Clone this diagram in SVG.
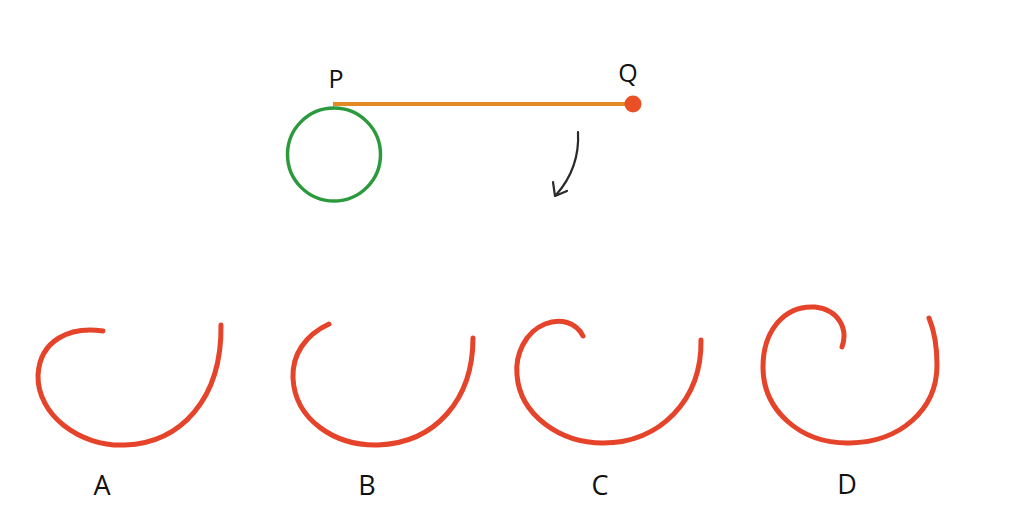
<svg xmlns="http://www.w3.org/2000/svg" width="1027" height="526" viewBox="0 0 1027 526">
<style>
.lbl{font-family:"Open Sans","Liberation Sans",sans-serif;fill:#111;text-anchor:middle}
.opt{fill:none;stroke:#e5432a;stroke-width:5;stroke-linecap:round}
</style>
<rect width="1027" height="526" fill="#fff"/>
<g id="circle"><circle cx="334" cy="154.5" r="46.5" fill="none" stroke="#2b9a3c" stroke-width="3.5"/></g>
<g id="rod"><line x1="333" y1="104" x2="633" y2="104" stroke="#e38b22" stroke-width="4"/></g>
<g id="Q"><circle cx="633" cy="104" r="8.5" fill="#ea5025"/><text class="lbl" x="628" y="82" font-size="25">Q</text></g>
<g id="P"><text class="lbl" x="336" y="88" font-size="25">P</text></g>
<g id="connectors">
<path d="M578,132 Q580,168 556,195" fill="none" stroke="#2a2a2a" stroke-width="2.2" stroke-linecap="round"/>
<path d="M553,182 L555,196 L567,191" fill="none" stroke="#2a2a2a" stroke-width="2.2" stroke-linecap="round" stroke-linejoin="round"/>
</g>
<g id="A"><path class="opt" d="M103,331 C70,326 40,340 38,375 C37,415 80,447 125,445 C180,443 222,400 221,325"/><text class="lbl" x="102" y="495" font-size="27">A</text></g>
<g id="B"><path class="opt" d="M329,324 C305,335 292,355 293,378 C295,420 335,446 378,445 C435,443 473,400 473,338"/><text class="lbl" x="367" y="495" font-size="27">B</text></g>
<g id="C"><path class="opt" d="M583,336 C576,322 560,318 545,324 C525,332 515,355 517,375 C520,415 560,443 603,443 C660,443 702,400 701,340"/><text class="lbl" x="600" y="495" font-size="27">C</text></g>
<g id="D"><path class="opt" d="M842,347 C848,330 840,310 815,307 C785,305 763,330 763,367 C763,410 800,444 850,443 C900,442 937,410 937,365 C937,345 934,330 929,318"/><text class="lbl" x="847" y="494" font-size="27">D</text></g>
</svg>
